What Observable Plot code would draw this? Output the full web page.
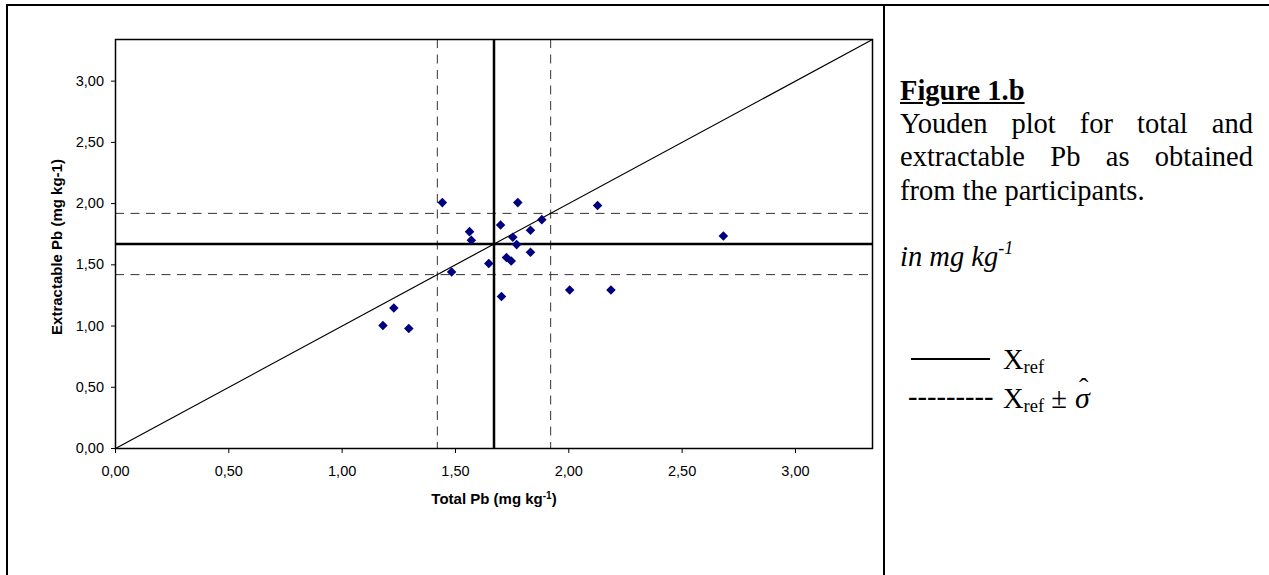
<!DOCTYPE html>
<html>
<head>
<meta charset="utf-8">
<script src="https://cdn.jsdelivr.net/npm/d3@7"></script>
<script src="https://cdn.jsdelivr.net/npm/@observablehq/plot@0.6"></script>
<style>
  html, body { margin: 0; padding: 0; background: #fff; }
  body { width: 1269px; height: 575px; position: relative; overflow: hidden; }
  #chart { position: absolute; left: 0; top: 0; }
  .bar { position: absolute; background: #000; z-index: 5; }
  .serif { position: absolute; font-family: "Times New Roman", "Liberation Serif", serif; font-size: 28.5px; line-height: 1; color: #000; white-space: nowrap; }
  .just { width: 353px; text-align: justify; text-align-last: justify; white-space: normal; }
  .sub { position: relative; top: 4px; font-size: 18.5px; }
  .sup { position: relative; top: -12px; font-size: 18px; }
  .sigma { position: relative; display: inline-block; font-style: italic; margin-left: 8px; font-size: 30px; }
  .hat { position: absolute; left: 4px; top: -9px; font-style: normal; font-size: 28px; }
</style>
</head>
<body>
<div id="chart"></div>

<div class="bar" style="left:6px; top:4px; width:1263px; height:2px;"></div>
<div class="bar" style="left:6px; top:4px; width:2px; height:571px;"></div>
<div class="bar" style="left:883px; top:4px; width:2px; height:571px;"></div>

<div class="serif" style="left:900px; top:77px; font-weight:bold; text-decoration:underline;">Figure 1.b</div>
<div class="serif just" style="left:900px; top:109.6px;">Youden plot for total and</div>
<div class="serif just" style="left:900px; top:143.1px;">extractable Pb as obtained</div>
<div class="serif" style="left:900px; top:176.6px;">from the participants.</div>
<div class="serif" style="left:900px; top:243.1px; font-style:italic;">in mg kg<span class="sup">-1</span></div>

<div class="bar" style="left:911px; top:358px; width:79px; height:2px;"></div>
<div class="serif" style="left:1003px; top:346.1px;">X<span class="sub">ref</span></div>
<div class="serif" style="left:908px; top:382.6px;">---------</div>
<div class="serif" style="left:1003px; top:382.6px;">X<span class="sub">ref</span> ±<span class="sigma">σ<span class="hat">ˆ</span></span></div>

<script>
// ---- data ----
const totalPb = [1.442, 1.775, 2.127, 1.881, 1.699, 1.562, 1.831, 1.570, 1.753, 1.770, 1.831,
                 1.725, 1.746, 1.647, 1.483, 1.703, 2.004, 2.186, 1.294, 1.180, 1.228, 2.682];
const extractablePb = [2.008, 2.008, 1.984, 1.869, 1.825, 1.771, 1.782, 1.700, 1.725, 1.665, 1.602,
                       1.559, 1.531, 1.510, 1.442, 1.241, 1.295, 1.295, 0.980, 1.004, 1.148, 1.736];
const xrefTotal = 1.67;
const xrefExtractable = 1.67;
const sigmaHat = 0.25;
const axisMax = 3.34;
const tickValues = [0, 0.5, 1.0, 1.5, 2.0, 2.5, 3.0];
const xLabelMain = "Total Pb (mg kg";
const xLabelSup = "-1";
const xLabelEnd = ")";
const yLabel = "Extractable Pb (mg kg-1)";

const xLabel = xLabelMain + xLabelSup + xLabelEnd;
const points = totalPb.map((t, i) => ({total: t, extractable: extractablePb[i]}));
const diagonal = [0, axisMax];
const fmt = v => d3.format(".2f")(v).replace(".", ",");

const plot = Plot.plot({
  width: 884,
  height: 575,
  marginLeft: 115,
  marginRight: 12,
  marginTop: 39,
  marginBottom: 127,
  x: {domain: [0, axisMax]},
  y: {domain: [0, axisMax]},
  style: {
    fontFamily: "Arial, 'Liberation Sans', sans-serif",
    fontSize: "14.5px",
    color: "#000",
    background: "transparent"
  },
  marks: [
    Plot.ruleX([xrefTotal - sigmaHat, xrefTotal + sigmaHat], {stroke: "#333", strokeWidth: 1, strokeDasharray: "9,6.5"}),
    Plot.ruleY([xrefExtractable - sigmaHat, xrefExtractable + sigmaHat], {stroke: "#333", strokeWidth: 1, strokeDasharray: "9,6.5"}),
    Plot.line(diagonal, {x: d => d, y: d => d, stroke: "#000", strokeWidth: 1.2}),
    Plot.ruleX([xrefTotal], {stroke: "#000", strokeWidth: 2.5}),
    Plot.ruleY([xrefExtractable], {stroke: "#000", strokeWidth: 2.5}),
    Plot.dot(points, {x: "total", y: "extractable", symbol: "diamond2", r: 4.3, fill: "#000080"}),
    Plot.frame({stroke: "#000", strokeWidth: 1.5}),
    Plot.axisX({ticks: tickValues, tickFormat: fmt, tickSize: 5, tickPadding: 12, label: null}),
    Plot.axisY({ticks: tickValues, tickFormat: fmt, tickSize: 4, tickPadding: 7.5, label: null}),
    Plot.text([xLabel], {frameAnchor: "bottom", text: d => d, dy: 51, textAnchor: "middle", lineAnchor: "middle", fontWeight: "bold", fontSize: 15}),
    Plot.text([yLabel], {frameAnchor: "left", text: d => d, dx: -58, dy: 3, rotate: -90, textAnchor: "middle", lineAnchor: "middle", fontWeight: "bold", fontSize: 15})
  ]
});
document.getElementById("chart").appendChild(plot);

// give the x-axis label its superscript, as in the reference
d3.select(plot).selectAll("text").filter(function() { return this.textContent === xLabel; })
  .each(function() {
    const t = d3.select(this);
    t.text(null);
    t.append("tspan").text(xLabelMain);
    t.append("tspan").attr("dy", "-5").attr("font-size", 10).text(xLabelSup);
    t.append("tspan").attr("dy", "5").text(xLabelEnd);
  });
</script>
</body>
</html>
